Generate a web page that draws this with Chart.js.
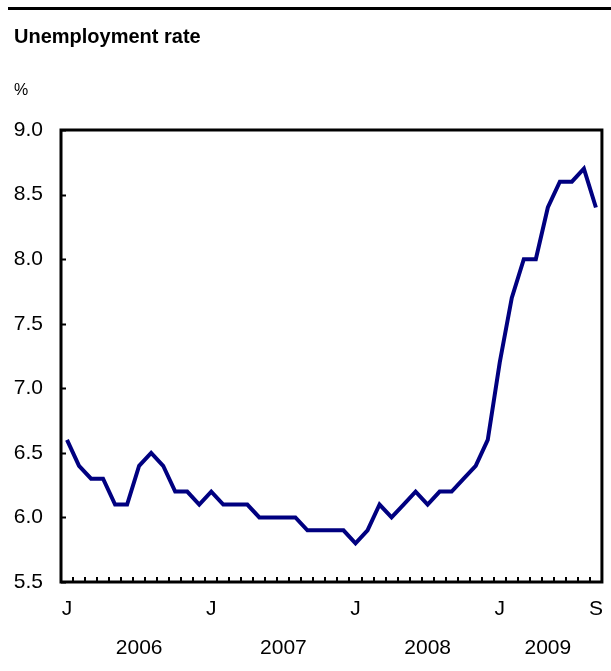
<!DOCTYPE html>
<html>
<head>
<meta charset="utf-8">
<script src="https://cdn.jsdelivr.net/npm/chart.js@4"></script>
<style>
  html, body { margin: 0; padding: 0; background: #fff; }
  #wrap { width: 611px; height: 671px; }
</style>
</head>
<body>
<div id="wrap"><canvas id="unempChart" width="611" height="671"></canvas></div>
<script>
// Monthly unemployment rate, Jan 2006 to Sep 2009
const months = [
    '2006-01','2006-02','2006-03','2006-04','2006-05','2006-06','2006-07','2006-08','2006-09','2006-10','2006-11','2006-12',
    '2007-01','2007-02','2007-03','2007-04','2007-05','2007-06','2007-07','2007-08','2007-09','2007-10','2007-11','2007-12',
    '2008-01','2008-02','2008-03','2008-04','2008-05','2008-06','2008-07','2008-08','2008-09','2008-10','2008-11','2008-12',
    '2009-01','2009-02','2009-03','2009-04','2009-05','2009-06','2009-07','2009-08','2009-09'
];
const rates = [
    6.6, 6.4, 6.3, 6.3, 6.1, 6.1, 6.4, 6.5, 6.4, 6.2, 6.2, 6.1,
    6.2, 6.1, 6.1, 6.1, 6.0, 6.0, 6.0, 6.0, 5.9, 5.9, 5.9, 5.9,
    5.8, 5.9, 6.1, 6.0, 6.1, 6.2, 6.1, 6.2, 6.2, 6.3, 6.4, 6.6,
    7.2, 7.7, 8.0, 8.0, 8.4, 8.6, 8.6, 8.7, 8.4
];
// tick labels: month letters and years, keyed by month
const monthLetters = { '2006-01': 'J', '2007-01': 'J', '2008-01': 'J', '2009-01': 'J', '2009-09': 'S' };
const yearLabels = { '2006-07': '2006', '2007-07': '2007', '2008-07': '2008', '2009-05': '2009' };
const yTicks = [5.5, 6.0, 6.5, 7.0, 7.5, 8.0, 8.5, 9.0];

const FONT = '"Liberation Sans", Arial, sans-serif';

// frame, inside tick marks, title and unit
const framePlugin = {
    id: 'frame',
    beforeDraw(chart) {
        const ctx = chart.ctx;
        ctx.save();
        ctx.strokeStyle = '#000';
        ctx.lineWidth = 3;
        ctx.beginPath();
        ctx.moveTo(8, 8.5);
        ctx.lineTo(611, 8.5);
        ctx.stroke();
        ctx.fillStyle = '#000';
        ctx.textBaseline = 'alphabetic';
        ctx.font = 'bold 20px ' + FONT;
        ctx.fillText('Unemployment rate', 14, 43);
        ctx.font = '16px ' + FONT;
        ctx.fillText('%', 14, 95);
        ctx.restore();
    },
    afterDraw(chart) {
        const ctx = chart.ctx;
        const a = chart.chartArea;
        const xs = chart.scales.x;
        const ys = chart.scales.y;
        ctx.save();
        ctx.strokeStyle = '#000';
        ctx.lineWidth = 2;
        ctx.beginPath();
        for (let i = 0; i < months.length - 1; i++) {
            const x = Math.round((xs.getPixelForValue(i) + xs.getPixelForValue(i + 1)) / 2);
            ctx.moveTo(x, a.bottom);
            ctx.lineTo(x, a.bottom - 5);
        }
        yTicks.forEach(v => {
            const y = Math.round(ys.getPixelForValue(v)) + 0.5;
            ctx.moveTo(a.left, y);
            ctx.lineTo(a.left + 5, y);
        });
        ctx.stroke();
        ctx.lineWidth = 3;
        ctx.strokeRect(a.left, a.top, a.right - a.left, a.bottom - a.top);
        ctx.restore();
    }
};

new Chart(document.getElementById('unempChart').getContext('2d'), {
    type: 'line',
    data: {
        labels: months,
        datasets: [{
            data: rates,
            borderColor: '#000080',
            borderWidth: 4,
            pointRadius: 0,
            tension: 0,
            fill: false
        }]
    },
    options: {
        responsive: false,
        animation: false,
        layout: { padding: { top: 130, right: 7, left: 0, bottom: 0 } },
        plugins: {
            legend: { display: false },
            tooltip: { enabled: false }
        },
        scales: {
            x: {
                type: 'category',
                offset: true,
                grid: { display: false, drawTicks: false },
                border: { display: false },
                afterFit: s => { s.height = 89; },
                ticks: {
                    autoSkip: false,
                    maxRotation: 0,
                    minRotation: 0,
                    padding: 8,
                    color: '#000',
                    font: { family: FONT, size: 21, lineHeight: 1.86 },
                    callback: (value, index) => {
                        const m = months[index];
                        if (monthLetters[m]) return monthLetters[m];
                        if (yearLabels[m]) return ['', yearLabels[m]];
                        return '';
                    }
                }
            },
            y: {
                min: 5.5,
                max: 9.0,
                grid: { display: false, drawTicks: false },
                border: { display: false },
                afterFit: s => { s.width = 61; },
                afterBuildTicks: s => { s.ticks = yTicks.map(v => ({ value: v })); },
                ticks: {
                    padding: 18,
                    color: '#000',
                    font: { family: FONT, size: 21 },
                    callback: v => Number(v).toFixed(1)
                }
            }
        }
    },
    plugins: [framePlugin]
});
</script>
</body>
</html>
